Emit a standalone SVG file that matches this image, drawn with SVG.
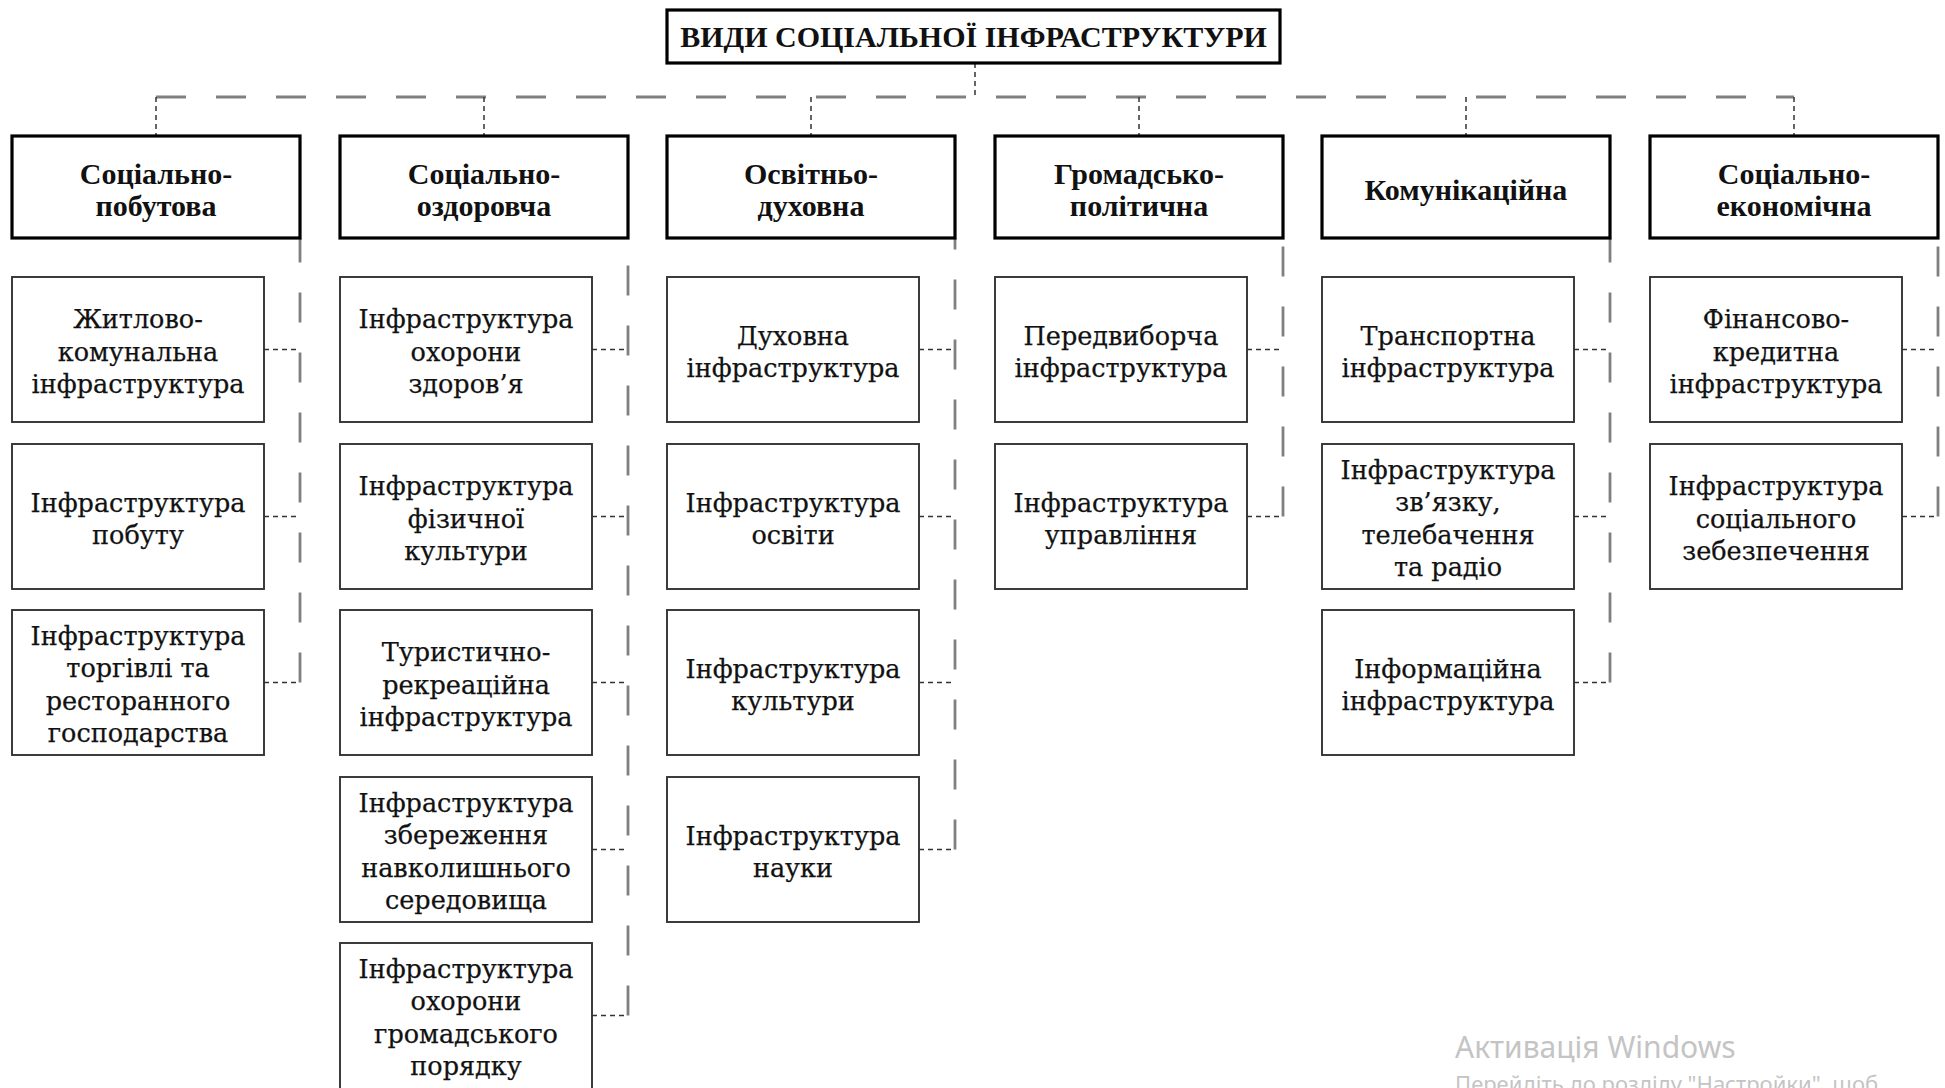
<svg xmlns="http://www.w3.org/2000/svg" width="1945" height="1088" viewBox="0 0 1945 1088">
<style>
.bg{fill:#fff}
.title{fill:#fff;stroke:#000;stroke-width:3.2}
.cat{fill:#fff;stroke:#000;stroke-width:3.2}
.child{fill:#fff;stroke:#333;stroke-width:1.9}
.tt{font-family:"Liberation Serif",serif;font-weight:bold;font-size:30px;fill:#111;text-anchor:middle}
.ct{font-family:"Liberation Serif",serif;font-weight:bold;font-size:30px;fill:#111;text-anchor:middle}
.nt{font-family:"DejaVu Serif",serif;font-size:25.5px;fill:#111;stroke:#111;stroke-width:0.25;text-anchor:middle}
.long{fill:none;stroke:#808080;stroke-width:2.8;stroke-dasharray:30 30}
.short{fill:none;stroke:#333;stroke-width:1.5;stroke-dasharray:5 4}
.wm1{font-family:"Noto Sans","Open Sans",sans-serif;font-size:30px;fill:#c4c4c4}
.wm2{font-family:"Noto Sans","Open Sans",sans-serif;font-size:22px;fill:#c4c4c4}
</style>
<rect class="bg" x="0" y="0" width="1945" height="1088"/>

<g id="connectors">
<path class="long" d="M156 97 H1794"/>
<path class="short" d="M975 63 V97"/>
<path class="short" d="M156 97 V136 M484 97 V136 M811 97 V136 M1139 97 V136 M1466 97 V136 M1794 97 V136"/>
<path class="long" d="M300 682.5 V238"/>
<path class="long" d="M628 1015.5 V238"/>
<path class="long" d="M955 849.5 V238"/>
<path class="long" d="M1283 516.5 V238"/>
<path class="long" d="M1610 682.5 V238"/>
<path class="long" d="M1938 516.5 V238"/>
<path class="short" d="M264 349.5 H300 M264 516.5 H300 M264 682.5 H300"/>
<path class="short" d="M592 349.5 H628 M592 516.5 H628 M592 682.5 H628 M592 849.5 H628 M592 1015.5 H628"/>
<path class="short" d="M919 349.5 H955 M919 516.5 H955 M919 682.5 H955 M919 849.5 H955"/>
<path class="short" d="M1247 349.5 H1283 M1247 516.5 H1283"/>
<path class="short" d="M1574 349.5 H1610 M1574 516.5 H1610 M1574 682.5 H1610"/>
<path class="short" d="M1902 349.5 H1938 M1902 516.5 H1938"/>
</g>

<g id="title">
<rect class="title" x="667" y="10" width="613" height="53"/>
<text class="tt" x="973.5" y="47">ВИДИ СОЦІАЛЬНОЇ ІНФРАСТРУКТУРИ</text>
</g>

<g id="cat1"><rect class="cat" x="12" y="136" width="288" height="102"/>
<text class="ct"><tspan x="156" y="183.5">Соціально-</tspan><tspan x="156" y="215.5">побутова</tspan></text></g>
<g id="cat2"><rect class="cat" x="340" y="136" width="288" height="102"/>
<text class="ct"><tspan x="484" y="183.5">Соціально-</tspan><tspan x="484" y="215.5">оздоровча</tspan></text></g>
<g id="cat3"><rect class="cat" x="667" y="136" width="288" height="102"/>
<text class="ct"><tspan x="811" y="183.5">Освітньо-</tspan><tspan x="811" y="215.5">духовна</tspan></text></g>
<g id="cat4"><rect class="cat" x="995" y="136" width="288" height="102"/>
<text class="ct"><tspan x="1139" y="183.5">Громадсько-</tspan><tspan x="1139" y="215.5">політична</tspan></text></g>
<g id="cat5"><rect class="cat" x="1322" y="136" width="288" height="102"/>
<text class="ct" x="1466" y="199.5">Комунікаційна</text></g>
<g id="cat6"><rect class="cat" x="1650" y="136" width="288" height="102"/>
<text class="ct"><tspan x="1794" y="183.5">Соціально-</tspan><tspan x="1794" y="215.5">економічна</tspan></text></g>

<!-- column 1 -->
<g id="c1r1"><rect class="child" x="12" y="277" width="252" height="145"/>
<text class="nt"><tspan x="138" y="328">Житлово-</tspan><tspan x="138" y="360.5">комунальна</tspan><tspan x="138" y="393">інфраструктура</tspan></text></g>
<g id="c1r2"><rect class="child" x="12" y="444" width="252" height="145"/>
<text class="nt"><tspan x="138" y="511.5">Інфраструктура</tspan><tspan x="138" y="544">побуту</tspan></text></g>
<g id="c1r3"><rect class="child" x="12" y="610" width="252" height="145"/>
<text class="nt"><tspan x="138" y="644.75">Інфраструктура</tspan><tspan x="138" y="677.25">торгівлі та</tspan><tspan x="138" y="709.75">ресторанного</tspan><tspan x="138" y="742.25">господарства</tspan></text></g>

<!-- column 2 -->
<g id="c2r1"><rect class="child" x="340" y="277" width="252" height="145"/>
<text class="nt"><tspan x="466" y="328">Інфраструктура</tspan><tspan x="466" y="360.5">охорони</tspan><tspan x="466" y="393">здоров’я</tspan></text></g>
<g id="c2r2"><rect class="child" x="340" y="444" width="252" height="145"/>
<text class="nt"><tspan x="466" y="495">Інфраструктура</tspan><tspan x="466" y="527.5">фізичної</tspan><tspan x="466" y="560">культури</tspan></text></g>
<g id="c2r3"><rect class="child" x="340" y="610" width="252" height="145"/>
<text class="nt"><tspan x="466" y="661">Туристично-</tspan><tspan x="466" y="693.5">рекреаційна</tspan><tspan x="466" y="726">інфраструктура</tspan></text></g>
<g id="c2r4"><rect class="child" x="340" y="777" width="252" height="145"/>
<text class="nt"><tspan x="466" y="811.75">Інфраструктура</tspan><tspan x="466" y="844.25">збереження</tspan><tspan x="466" y="876.75">навколишнього</tspan><tspan x="466" y="909.25">середовища</tspan></text></g>
<g id="c2r5"><rect class="child" x="340" y="943" width="252" height="150"/>
<text class="nt"><tspan x="466" y="977.75">Інфраструктура</tspan><tspan x="466" y="1010.25">охорони</tspan><tspan x="466" y="1042.75">громадського</tspan><tspan x="466" y="1075.25">порядку</tspan></text></g>

<!-- column 3 -->
<g id="c3r1"><rect class="child" x="667" y="277" width="252" height="145"/>
<text class="nt"><tspan x="793" y="344.5">Духовна</tspan><tspan x="793" y="377">інфраструктура</tspan></text></g>
<g id="c3r2"><rect class="child" x="667" y="444" width="252" height="145"/>
<text class="nt"><tspan x="793" y="511.5">Інфраструктура</tspan><tspan x="793" y="544">освіти</tspan></text></g>
<g id="c3r3"><rect class="child" x="667" y="610" width="252" height="145"/>
<text class="nt"><tspan x="793" y="677.5">Інфраструктура</tspan><tspan x="793" y="710">культури</tspan></text></g>
<g id="c3r4"><rect class="child" x="667" y="777" width="252" height="145"/>
<text class="nt"><tspan x="793" y="844.5">Інфраструктура</tspan><tspan x="793" y="877">науки</tspan></text></g>

<!-- column 4 -->
<g id="c4r1"><rect class="child" x="995" y="277" width="252" height="145"/>
<text class="nt"><tspan x="1121" y="344.5">Передвиборча</tspan><tspan x="1121" y="377">інфраструктура</tspan></text></g>
<g id="c4r2"><rect class="child" x="995" y="444" width="252" height="145"/>
<text class="nt"><tspan x="1121" y="511.5">Інфраструктура</tspan><tspan x="1121" y="544">управління</tspan></text></g>

<!-- column 5 -->
<g id="c5r1"><rect class="child" x="1322" y="277" width="252" height="145"/>
<text class="nt"><tspan x="1448" y="344.5">Транспортна</tspan><tspan x="1448" y="377">інфраструктура</tspan></text></g>
<g id="c5r2"><rect class="child" x="1322" y="444" width="252" height="145"/>
<text class="nt"><tspan x="1448" y="478.75">Інфраструктура</tspan><tspan x="1448" y="511.25">зв’язку,</tspan><tspan x="1448" y="543.75">телебачення</tspan><tspan x="1448" y="576.25">та радіо</tspan></text></g>
<g id="c5r3"><rect class="child" x="1322" y="610" width="252" height="145"/>
<text class="nt"><tspan x="1448" y="677.5">Інформаційна</tspan><tspan x="1448" y="710">інфраструктура</tspan></text></g>

<!-- column 6 -->
<g id="c6r1"><rect class="child" x="1650" y="277" width="252" height="145"/>
<text class="nt"><tspan x="1776" y="328">Фінансово-</tspan><tspan x="1776" y="360.5">кредитна</tspan><tspan x="1776" y="393">інфраструктура</tspan></text></g>
<g id="c6r2"><rect class="child" x="1650" y="444" width="252" height="145"/>
<text class="nt"><tspan x="1776" y="495">Інфраструктура</tspan><tspan x="1776" y="527.5">соціального</tspan><tspan x="1776" y="560">зебезпечення</tspan></text></g>

<g id="watermark">
<text class="wm1" x="1455" y="1058">Активація Windows</text>
<text class="wm2" x="1455" y="1092">Перейдіть до розділу "Настройки", щоб</text>
</g>
</svg>
